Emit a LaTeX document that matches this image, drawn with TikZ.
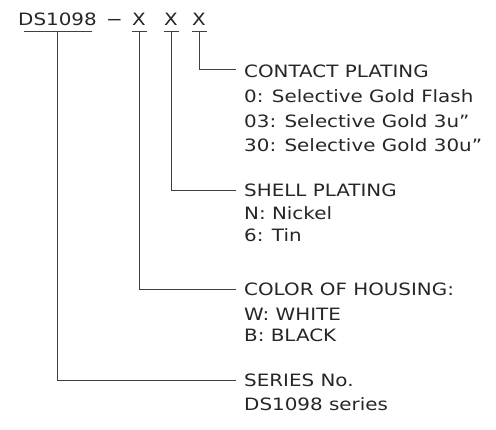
\documentclass[tikz,border=0pt]{standalone}
\usepackage{fontspec}
\setmainfont{DejaVu Sans}[FakeStretch=1.17]
\begin{document}
\begin{tikzpicture}[x=1pt,y=-1pt,
  lbl/.style={font=\fontsize{17}{20}\selectfont, inner sep=0pt, anchor=base west, text=black!85},
  hdr/.style={font=\fontsize{17}{20}\selectfont, inner sep=0pt, anchor=base, text=black!85},
  lead/.style={draw=black!75, line width=0.8pt}]
\useasboundingbox (0,0) rectangle (496,430);
% header
\node[hdr] (ds) at (57.5,26) {DS1098};
\node[hdr] (dash) at (114.5,26) {−};
\node[hdr] (x1) at (139,26) {X};
\node[hdr] (x2) at (171,26) {X};
\node[hdr] (x3) at (199,26) {X};
% underlines
\draw[lead] ([shift={(-34pt,-5pt)}]ds.base) -- ([shift={(34pt,-5pt)}]ds.base);
\foreach \n in {x1,x2,x3}{
  \draw[lead] ([shift={(-7.5pt,-5pt)}]\n.base) -- ([shift={(7.5pt,-5pt)}]\n.base);
}
% labels
\node[lbl] (cp) at (244,78) {CONTACT PLATING};
\node[lbl] (cp0) at (244,103) {0: Selective Gold Flash};
\node[lbl] (cp1) at (244,128) {03: Selective Gold 3u”};
\node[lbl] (cp2) at (244,152) {30: Selective Gold 30u”};
\node[lbl] (sp) at (244,197) {SHELL PLATING};
\node[lbl] (sp0) at (244,220) {N: Nickel};
\node[lbl] (sp1) at (244,242) {6: Tin};
\node[lbl] (ch) at (244,296) {COLOR OF HOUSING:};
\node[lbl] (ch0) at (244,321) {W: WHITE};
\node[lbl] (ch1) at (244,342) {B: BLACK};
\node[lbl] (sr) at (244,387) {SERIES No.};
\node[lbl] (sr0) at (244,411) {DS1098 series};
% leader ends
\coordinate (e3) at (236,69);
\coordinate (e2) at (236,190);
\coordinate (e1) at (236,289);
\coordinate (e0) at (236,380);
% leaders
\draw[lead] ([yshift=-5pt]x3.base) |- (e3);
\draw[lead] ([yshift=-5pt]x2.base) |- (e2);
\draw[lead] ([yshift=-5pt]x1.base) |- (e1);
\draw[lead] ([yshift=-5pt]ds.base) |- (e0);
\end{tikzpicture}
\end{document}
